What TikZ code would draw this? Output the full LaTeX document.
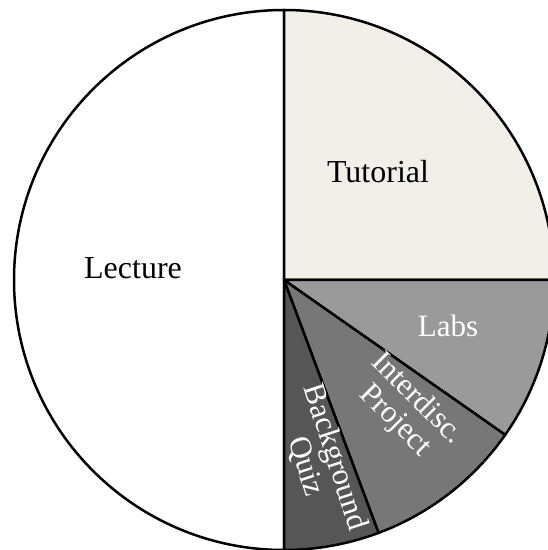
\documentclass[tikz,border=0pt]{standalone}
\usepackage{fontspec}
\setmainfont{Liberation Serif}
\usepackage{xcolor}
\usepackage{tikz}
\definecolor{tutorialfill}{HTML}{F2EFE8}
\definecolor{labsfill}{HTML}{9A9A9A}
\definecolor{projectfill}{HTML}{777777}
\definecolor{quizfill}{HTML}{565656}
\tikzstyle{slice:border}=[draw=black, line width=2.5pt, line join=round]
\tikzstyle{slice:lecture}=[slice:border, fill=white]
\tikzstyle{slice:tutorial}=[slice:border, fill=tutorialfill]
\tikzstyle{slice:labs}=[slice:border, fill=labsfill]
\tikzstyle{slice:project}=[slice:border, fill=projectfill]
\tikzstyle{slice:quiz}=[slice:border, fill=quizfill]
\tikzstyle{label:dark}=[black, align=center, font=\fontsize{32}{32}\selectfont]
\tikzstyle{label:light}=[white, align=center, font=\fontsize{31}{31}\selectfont]

\begin{document}
\begin{tikzpicture}[x=1pt,y=1pt]
        \useasboundingbox (0,0) rectangle (548,550);
        \clip (0,0) rectangle (548,550);
        \coordinate (c) at (284,270);

        % Slices
        \filldraw[slice:lecture] (c) -- ++(90:270) arc[start angle=90, end angle=270, radius=270] -- cycle;
        \filldraw[slice:tutorial] (c) -- ++(0:270) arc[start angle=0, end angle=90, radius=270] -- cycle;
        \filldraw[slice:labs] (c) -- ++(-35:270) arc[start angle=-35, end angle=0, radius=270] -- cycle;
        \filldraw[slice:project] (c) -- ++(-69.5:270) arc[start angle=-69.5, end angle=-35, radius=270] -- cycle;
        \filldraw[slice:quiz] (c) -- ++(-90:270) arc[start angle=-90, end angle=-69.5, radius=270] -- cycle;

        % Labels
        \node[label:dark] (lecture) at (133,282) {Lecture};
        \node[label:dark] (tutorial) at (378,378) {Tutorial};
        \node[label:light] (labs) at (448,224) {Labs};
        \node[label:light, rotate=-45] (project) at (406,140) {Interdisc.\\Project};
        \node[label:light, rotate=-72] (quiz) at (320,88) {Background\\Quiz};

    \end{tikzpicture}
\end{document}
